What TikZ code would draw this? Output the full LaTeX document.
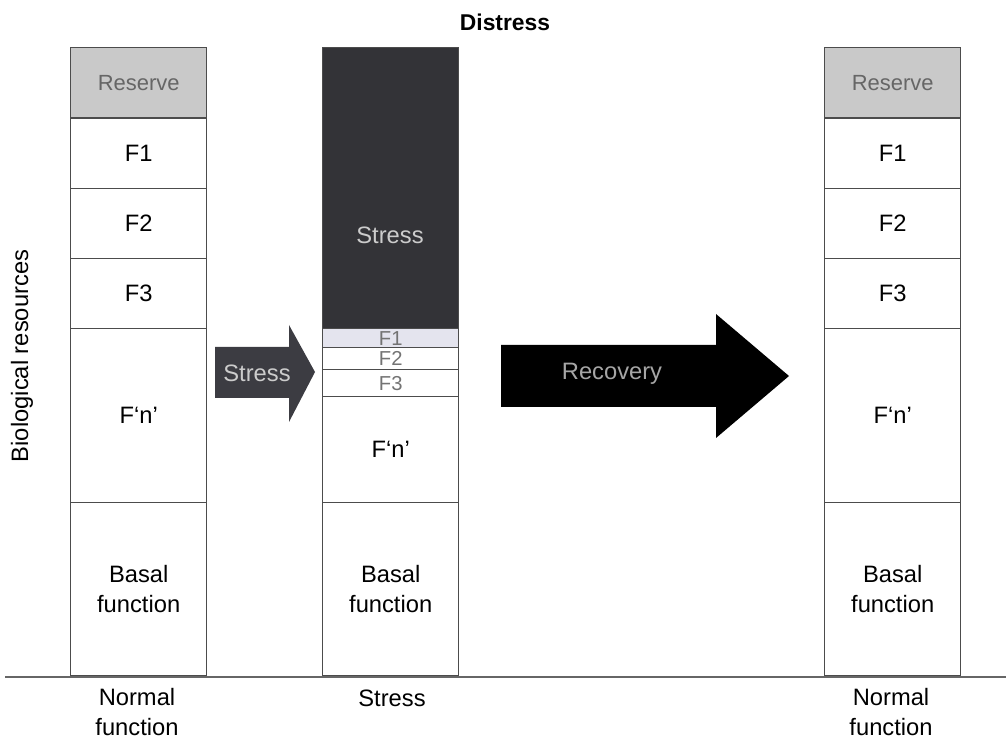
\documentclass[tikz,border=0pt]{standalone}
\usepackage{fontspec}
\setmainfont{Liberation Sans}
\definecolor{reservegray}{HTML}{C9C9C9}
\definecolor{stressdark}{HTML}{333337}
\definecolor{arrowgray}{HTML}{3C3C42}
\definecolor{paleblue}{HTML}{E4E4EE}
\tikzset{
    cell/.style={draw=black!70, line width=0.8pt, minimum width=2.72cm, inner sep=0pt,
        anchor=north west, align=center, font=\fontsize{13.5}{17}\selectfont},
    thin cell/.style={cell, text=black!55, font=\fontsize{11.5}{11.5}\selectfont},
    label/.style={align=center, font=\fontsize{13.5}{17}\selectfont},
}
\begin{document}
\begin{tikzpicture}[x=0.02cm, y=-0.02cm]
    \useasboundingbox (0,0) rectangle (1006,742);

    % normal function (left)
    \node[cell, minimum height=1.4cm, fill=reservegray, text=black!60,
        font=\fontsize{12.5}{15}\selectfont] (lres) at (70,47) {Reserve};
    \node[cell, minimum height=1.4cm] (lf1) at (70,118) {F1};
    \node[cell, minimum height=1.4cm] (lf2) at (70,188) {F2};
    \node[cell, minimum height=1.4cm] (lf3) at (70,258) {F3};
    \node[cell, minimum height=3.48cm] (lfn) at (70,328) {F`n'};
    \node[cell, minimum height=3.46cm] (lbas) at (70,502) {Basal\\function};

    % stress (middle)
    \node[cell, minimum height=5.62cm, fill=stressdark] (mstress) at (322,47) {};
    \node[label, text=black!20] (mstresstxt) at (390,235) {Stress};
    \node[thin cell, minimum height=0.38cm, fill=paleblue] (mf1) at (322,328) {F1};
    \node[thin cell, minimum height=0.44cm] (mf2) at (322,347) {F2};
    \node[thin cell, minimum height=0.54cm] (mf3) at (322,369) {F3};
    \node[cell, minimum height=2.12cm] (mfn) at (322,396) {F`n'};
    \node[cell, minimum height=3.46cm] (mbas) at (322,502) {Basal\\function};

    % normal function (right)
    \node[cell, minimum height=1.4cm, fill=reservegray, text=black!60,
        font=\fontsize{12.5}{15}\selectfont] (rres) at (824,47) {Reserve};
    \node[cell, minimum height=1.4cm] (rf1) at (824,118) {F1};
    \node[cell, minimum height=1.4cm] (rf2) at (824,188) {F2};
    \node[cell, minimum height=1.4cm] (rf3) at (824,258) {F3};
    \node[cell, minimum height=3.48cm] (rfn) at (824,328) {F`n'};
    \node[cell, minimum height=3.46cm] (rbas) at (824,502) {Basal\\function};

    % arrows
    \fill[arrowgray] (215,347) -- (289,347) -- (289,325) -- (315,372)
        -- (289,422) -- (289,398) -- (215,398) -- cycle;
    \node[label, text=black!20] (stressarr) at (257,373) {Stress};
    \fill[black] (501,345) -- (716,345) -- (716,314) -- (789,376)
        -- (716,438) -- (716,407) -- (501,407) -- cycle;
    \node[label, text=black!35] (recarr) at (612,374) {Recovery};

    % axis and labels
    \draw[black!60, line width=1pt] (5,677) -- (1006,677);
    \node[label, font=\bfseries\fontsize{13}{15}\selectfont] (distress) at (505,22) {Distress};
    \node[label, rotate=90] (bio) at (22,356) {Biological resources};
    \node[label] (lname) at (137,712) {Normal\\function};
    \node[label] (mname) at (392,698) {Stress};
    \node[label] (rname) at (891,712) {Normal\\function};
\end{tikzpicture}
\end{document}
